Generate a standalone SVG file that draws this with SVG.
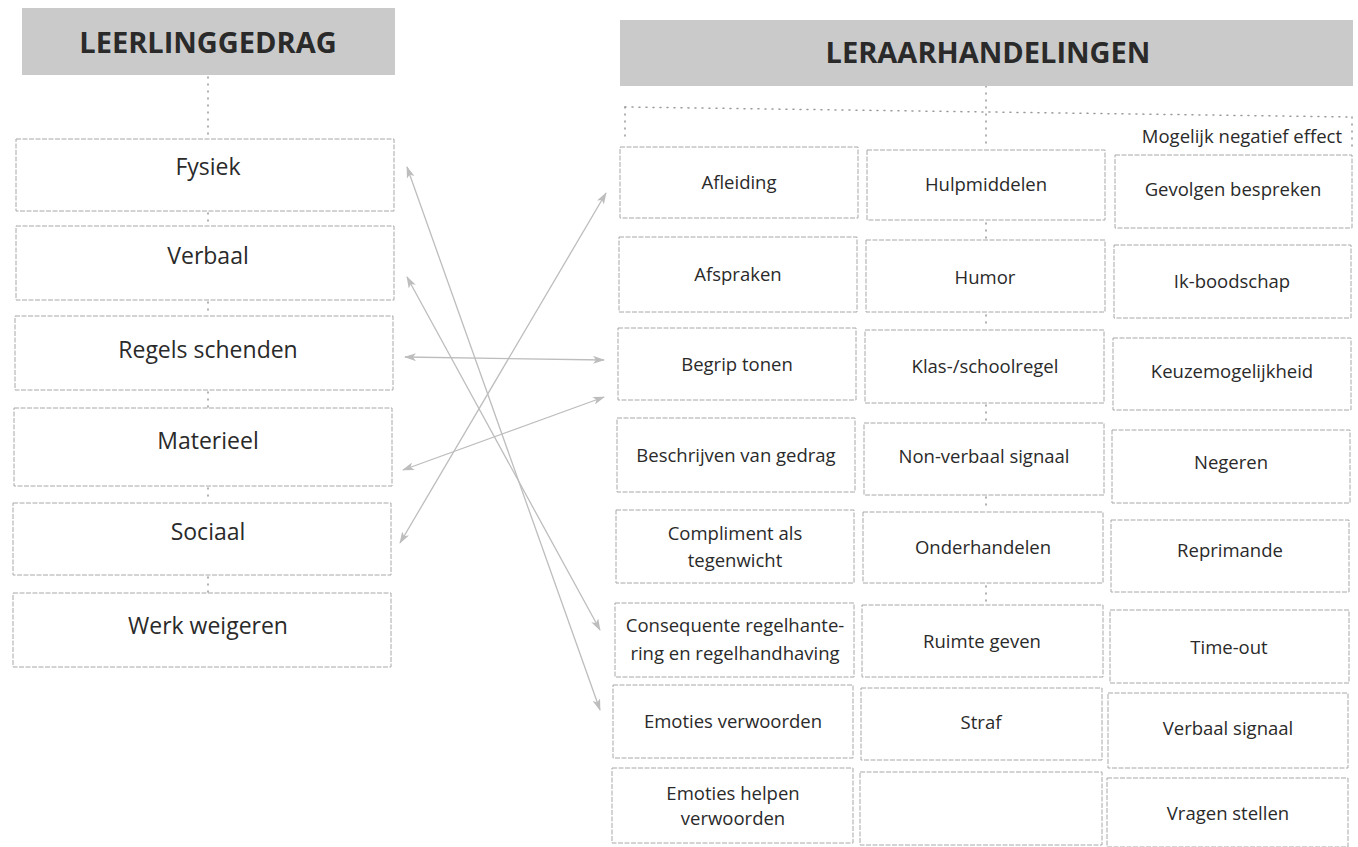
<svg xmlns="http://www.w3.org/2000/svg" width="1358" height="847" viewBox="0 0 1358 847">
<style>
.hdr{fill:#cacaca}
.htxt{font-family:"Open Sans","Noto Sans",sans-serif;font-weight:700;font-size:29px;fill:#2a2a2a;text-anchor:middle}
.box{fill:#fff;stroke:#a8a8a8;stroke-width:1;stroke-dasharray:5 1.5}
.lt{font-family:"Open Sans","Noto Sans",sans-serif;font-size:23px;fill:#2a2a2a;text-anchor:middle}
.rt{font-family:"Open Sans","Noto Sans",sans-serif;font-size:18.5px;fill:#2a2a2a;text-anchor:middle}
.dot{fill:none;stroke:#9a9a9a;stroke-width:1.5;stroke-dasharray:1 6;stroke-linecap:round}
.arr{fill:none;stroke:#bdbdbd;stroke-width:1.3;marker-start:url(#ah);marker-end:url(#ah)}
</style>
<defs>
<marker id="ah" viewBox="0 0 12 8" refX="11" refY="4" markerWidth="12" markerHeight="8" markerUnits="userSpaceOnUse" orient="auto-start-reverse">
<path d="M0,0 L12,4 L0,8 L3,4 z" fill="#bdbdbd"/>
</marker>
</defs>
<rect width="1358" height="847" fill="#fff"/>

<g id="dotted-connectors">
<path class="dot" d="M208,77 V138"/>
<path class="dot" d="M208,213 V225"/>
<path class="dot" d="M208,302 V315"/>
<path class="dot" d="M208,392 V407"/>
<path class="dot" d="M208,488 V502"/>
<path class="dot" d="M208,577 V592"/>
<path class="dot" d="M625,107 L1352,117"/>
<path class="dot" d="M625,107 V140"/>
<path class="dot" d="M1352,117 V152"/>
<path class="dot" d="M986,86 V146"/>
<path class="dot" d="M986,223 V238"/>
<path class="dot" d="M986,315 V329"/>
<path class="dot" d="M986,405 V420"/>
<path class="dot" d="M986,497 V510"/>
<path class="dot" d="M986,586 V603"/>
</g>

<g id="header-leerlinggedrag">
<rect class="hdr" x="22" y="8" width="373" height="67"/>
<text class="htxt" x="208" y="53">LEERLINGGEDRAG</text>
</g>
<g id="header-leraarhandelingen">
<rect class="hdr" x="620" y="20" width="733" height="66"/>
<text class="htxt" x="988" y="63">LERAARHANDELINGEN</text>
</g>
<g id="label-negatief">
<text class="rt" x="1342" y="143" style="text-anchor:end">Mogelijk negatief effect</text>
</g>

<g id="l-fysiek"><rect class="box" x="16" y="139" width="378" height="72"/><text class="lt" x="208" y="175">Fysiek</text></g>
<g id="l-verbaal"><rect class="box" x="16" y="226" width="378" height="74"/><text class="lt" x="208" y="264">Verbaal</text></g>
<g id="l-regels"><rect class="box" x="15" y="316" width="378" height="74"/><text class="lt" x="208" y="358">Regels schenden</text></g>
<g id="l-materieel"><rect class="box" x="14" y="408" width="378" height="78"/><text class="lt" x="208" y="449">Materieel</text></g>
<g id="l-sociaal"><rect class="box" x="13" y="503" width="378" height="72"/><text class="lt" x="208" y="540">Sociaal</text></g>
<g id="l-werk"><rect class="box" x="13" y="593" width="378" height="74"/><text class="lt" x="208" y="634">Werk weigeren</text></g>

<g id="r-afleiding"><rect class="box" x="620" y="147" width="238" height="71"/><text class="rt" x="739" y="189">Afleiding</text></g>
<g id="r-afspraken"><rect class="box" x="619" y="237" width="238" height="75"/><text class="rt" x="738" y="281">Afspraken</text></g>
<g id="r-begrip"><rect class="box" x="618" y="328" width="238" height="72"/><text class="rt" x="737" y="371">Begrip tonen</text></g>
<g id="r-beschrijven"><rect class="box" x="617" y="418" width="238" height="74"/><text class="rt" x="736" y="462">Beschrijven van gedrag</text></g>
<g id="r-compliment"><rect class="box" x="616" y="510" width="238" height="73"/><text class="rt" x="735" y="540">Compliment als</text><text class="rt" x="735" y="567">tegenwicht</text></g>
<g id="r-consequente"><rect class="box" x="615" y="603" width="239" height="74"/><text class="rt" x="735" y="632">Consequente regelhante-</text><text class="rt" x="735" y="660">ring en regelhandhaving</text></g>
<g id="r-emoties"><rect class="box" x="613" y="685" width="240" height="73"/><text class="rt" x="733" y="728">Emoties verwoorden</text></g>
<g id="r-emoties-helpen"><rect class="box" x="612" y="768" width="241" height="75"/><text class="rt" x="733" y="800">Emoties helpen</text><text class="rt" x="733" y="825">verwoorden</text></g>

<g id="r-hulpmiddelen"><rect class="box" x="867" y="150" width="238" height="70"/><text class="rt" x="986" y="191">Hulpmiddelen</text></g>
<g id="r-humor"><rect class="box" x="866" y="240" width="239" height="72"/><text class="rt" x="985" y="284">Humor</text></g>
<g id="r-klas"><rect class="box" x="865" y="330" width="239" height="73"/><text class="rt" x="985" y="373">Klas-/schoolregel</text></g>
<g id="r-nonverbaal"><rect class="box" x="864" y="423" width="240" height="72"/><text class="rt" x="984" y="463">Non-verbaal signaal</text></g>
<g id="r-onderhandelen"><rect class="box" x="863" y="512" width="240" height="71"/><text class="rt" x="983" y="554">Onderhandelen</text></g>
<g id="r-ruimte"><rect class="box" x="862" y="605" width="241" height="72"/><text class="rt" x="982" y="648">Ruimte geven</text></g>
<g id="r-straf"><rect class="box" x="861" y="688" width="241" height="72"/><text class="rt" x="981" y="729">Straf</text></g>
<g id="r-empty"><rect class="box" x="860" y="772" width="242" height="73"/></g>

<g id="r-gevolgen"><rect class="box" x="1115" y="155" width="237" height="73"/><text class="rt" x="1233" y="196">Gevolgen bespreken</text></g>
<g id="r-ik"><rect class="box" x="1114" y="245" width="237" height="73"/><text class="rt" x="1232" y="288">Ik-boodschap</text></g>
<g id="r-keuze"><rect class="box" x="1113" y="338" width="238" height="72"/><text class="rt" x="1232" y="378">Keuzemogelijkheid</text></g>
<g id="r-negeren"><rect class="box" x="1112" y="430" width="238" height="73"/><text class="rt" x="1231" y="469">Negeren</text></g>
<g id="r-reprimande"><rect class="box" x="1111" y="520" width="238" height="72"/><text class="rt" x="1230" y="557">Reprimande</text></g>
<g id="r-timeout"><rect class="box" x="1110" y="610" width="239" height="73"/><text class="rt" x="1229" y="654">Time-out</text></g>
<g id="r-verbaal"><rect class="box" x="1108" y="693" width="240" height="75"/><text class="rt" x="1228" y="735">Verbaal signaal</text></g>
<g id="r-vragen"><rect class="box" x="1107" y="778" width="241" height="69"/><text class="rt" x="1228" y="820">Vragen stellen</text></g>

<g id="connectors">
<line class="arr" x1="400" y1="543" x2="606" y2="193"/>
<line class="arr" x1="407" y1="167" x2="600" y2="710"/>
<line class="arr" x1="407" y1="277" x2="600" y2="630"/>
<line class="arr" x1="405" y1="357" x2="604" y2="360"/>
<line class="arr" x1="403" y1="470" x2="604" y2="397"/>
</g>
</svg>
